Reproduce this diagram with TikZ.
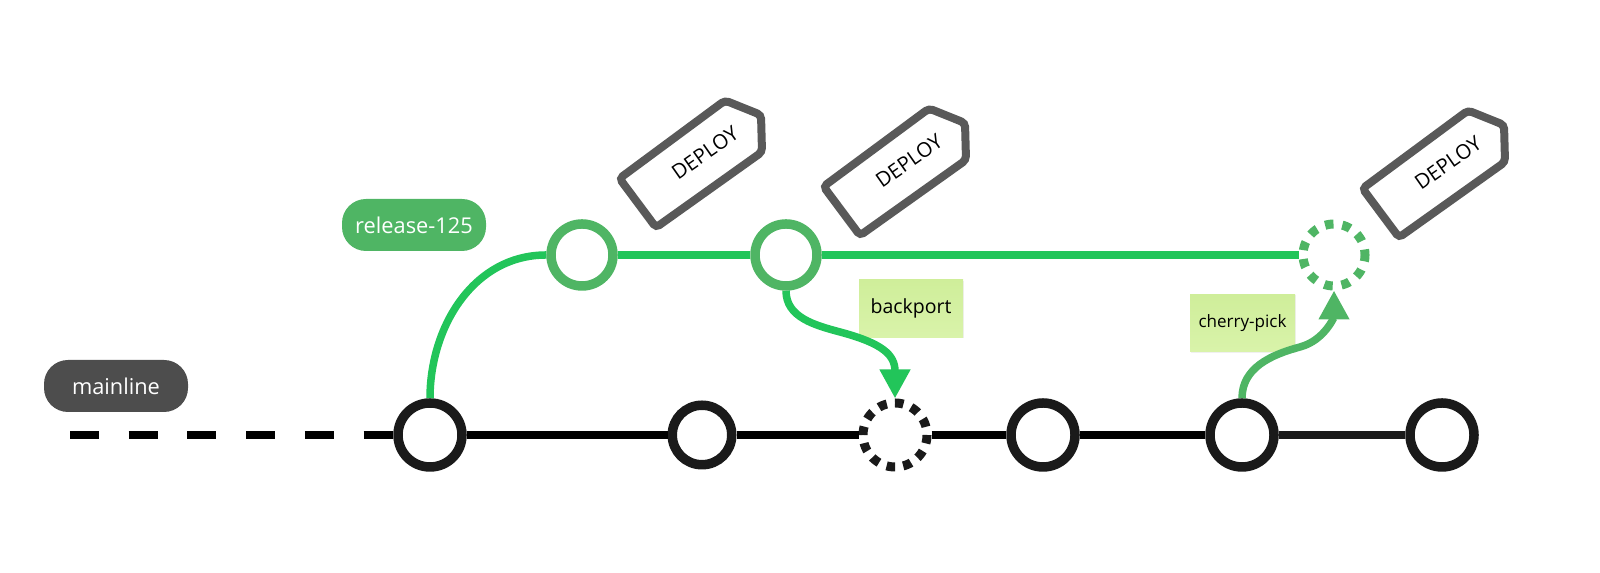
\documentclass[tikz,border=0pt]{standalone}
\usepackage{fontspec}
\setmainfont{Open Sans}
\usetikzlibrary{arrows.meta,shadows}

\definecolor{ringblack}{HTML}{1A1A1A}
\definecolor{ringgreen}{HTML}{4FB564}
\definecolor{linegreen}{HTML}{22C55A}
\definecolor{taggrey}{HTML}{595959}
\definecolor{pillgrey}{HTML}{4D4D4D}
\definecolor{notetop}{HTML}{CFEE9A}
\definecolor{notebottom}{HTML}{D9F3AA}

\tikzset{
    commit/.style={circle,draw=ringblack,fill=white,line width=0.095cm,inner sep=0pt,minimum size=#1},
    commit/.default=0.64cm,
    greencommit/.style={commit=0.62cm,draw=ringgreen},
    dotted black/.style={commit=0.64cm,line width=0.09cm,dash pattern=on 0.085cm off 0.0825cm,dash phase=0.085cm},
    dotted green/.style={commit=0.62cm,draw=ringgreen,line width=0.09cm,dash pattern=on 0.085cm off 0.089cm,dash phase=0.03cm},
    mainline/.style={line width=0.075cm,black},
    branchline/.style={line width=0.075cm,linegreen},
    pickline/.style={line width=0.075cm,ringgreen},
    bigtip/.style={-{Triangle[length=0.29cm,width=0.29cm]}},
    pill/.style={text=white,rounded corners=0.24cm,minimum width=1.44cm,minimum height=0.52cm,inner sep=0pt,font=\fontsize{6.2}{8}\selectfont},
    note/.style={top color=notetop,bottom color=notebottom,inner sep=0pt,minimum width=#1,minimum height=0.575cm,
        drop shadow={opacity=0.12,shadow xshift=0.012cm,shadow yshift=-0.012cm}},
    deploytag/.pic={
        \draw[taggrey,line width=0.08cm,rounded corners=0.04cm,fill=white]
            (0.20,0.525) -- (0.56,0.38) -- (0.57,0.01) -- (-0.49,-0.745) -- (-0.855,-0.255) -- cycle;
        \node[rotate=35,font=\fontsize{5.8}{7}\selectfont] (-text) at (0,0) {DEPLOY};
    }
}

\begin{document}
\begin{tikzpicture}
    \useasboundingbox (0,0) rectangle (16,5.73);

    \node[commit=0.64cm] (c1) at (4.30,1.38) {};
    \node[commit=0.595cm] (c2) at (7.02,1.38) {};
    \node[dotted black] (c3) at (8.95,1.38) {};
    \node[commit=0.64cm] (c4) at (10.43,1.38) {};
    \node[commit=0.64cm] (c5) at (12.42,1.38) {};
    \node[commit=0.64cm] (c6) at (14.42,1.38) {};

    \node[greencommit] (g1) at (5.82,3.18) {};
    \node[greencommit] (g2) at (7.86,3.18) {};
    \node[dotted green] (g3) at (13.34,3.18) {};

    \node[pill,fill=ringgreen] (release) at (4.14,3.48) {release-125};
    \node[pill,fill=pillgrey] (mainlabel) at (1.16,1.87) {mainline};

    \node[note=1.04cm,font=\fontsize{5.55}{7}\selectfont] (backport) at (9.11,2.645) {backport};
    \node[note=1.05cm,font=\fontsize{4.85}{6}\selectfont] (cherry) at (12.425,2.50) {cherry-pick};

    \pic (tag1) at (7.05,4.20) {deploytag};
    \pic (tag2) at (9.09,4.12) {deploytag};
    \pic (tag3) at (14.48,4.10) {deploytag};

    \coordinate (start) at (0.70,1.38);
    \coordinate (backmid) at (8.40,2.41);
    \coordinate (pickmid) at (13.00,2.26);

    \draw[mainline,dash pattern=on 0.29cm off 0.297cm] (start) -- (c1);
    \draw[mainline] (c1) -- (c2);
    \draw[mainline] (c2) -- (c3);
    \draw[mainline] (c3) -- (c4);
    \draw[mainline] (c4) -- (c5);
    \draw[mainline,ringblack] (c5) -- (c6);

    \draw[branchline] (c1.north) to[out=90,in=180] (g1.west);
    \draw[branchline] (g1) -- (g2);
    \draw[branchline] (g2) -- (g3);

    \draw[branchline,bigtip] (g2.south) to[out=-90,in=165] (backmid) to[out=-15,in=90,looseness=1.3] (c3.north);
    \draw[pickline,bigtip] (c5.north) to[out=90,in=195] (pickmid) to[out=15,in=-90] (g3.south);
\end{tikzpicture}
\end{document}
